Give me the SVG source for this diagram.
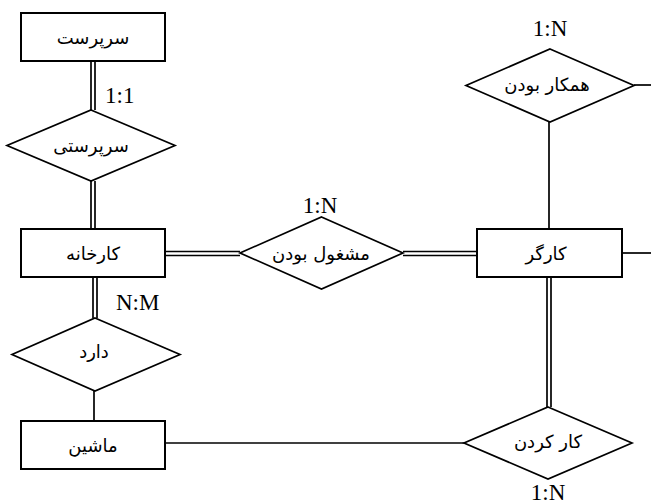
<svg xmlns="http://www.w3.org/2000/svg" width="651" height="504" viewBox="0 0 651 504">
<style>
.ent{fill:#fff;stroke:#000;stroke-width:2}
.rel{fill:#fff;stroke:#000;stroke-width:1.7}
.ln{stroke:#000;stroke-width:1.7;fill:none}
.fa{font-family:"DejaVu Sans",sans-serif;font-size:18px;fill:#000;text-anchor:middle;dominant-baseline:central}
.card{font-family:"Liberation Serif",serif;font-size:23px;fill:#000}
</style>
<rect width="651" height="504" fill="#fff"/>
<g id="connectors">
<line class="ln" x1="91" y1="61" x2="91" y2="110"/><line class="ln" x1="95" y1="61" x2="95" y2="110"/>
<line class="ln" x1="91" y1="181" x2="91" y2="229"/><line class="ln" x1="95" y1="181" x2="95" y2="229"/>
<line class="ln" x1="93" y1="277" x2="93" y2="318"/><line class="ln" x1="97" y1="277" x2="97" y2="318"/>
<line class="ln" x1="94" y1="391" x2="94" y2="421"/>
<line class="ln" x1="165" y1="251.5" x2="240" y2="251.5"/><line class="ln" x1="165" y1="255.5" x2="240" y2="255.5"/>
<line class="ln" x1="403" y1="251.5" x2="477" y2="251.5"/><line class="ln" x1="403" y1="255.5" x2="477" y2="255.5"/>
<line class="ln" x1="622" y1="253" x2="651" y2="253"/>
<line class="ln" x1="549" y1="122" x2="549" y2="229"/>
<line class="ln" x1="634" y1="85" x2="651" y2="85"/>
<line class="ln" x1="547" y1="277" x2="547" y2="407"/><line class="ln" x1="551" y1="277" x2="551" y2="407"/>
<line class="ln" x1="165" y1="443" x2="464" y2="443"/>
</g>
<g id="sarparast"><rect class="ent" x="21" y="13" width="144" height="48"/><text class="fa" x="93" y="37">سرپرست</text></g>
<g id="sarparasti"><polygon class="rel" points="91,110 175,145.5 91,181 7,145.5"/><text class="fa" x="91" y="145">سرپرستی</text></g>
<g id="karkhane"><rect class="ent" x="21" y="229" width="144" height="48"/><text class="fa" x="93" y="253">کارخانه</text></g>
<g id="darad"><polygon class="rel" points="95,318 180,354.5 95,391 12,354.5"/><text class="fa" x="94" y="351">دارد</text></g>
<g id="mashin"><rect class="ent" x="21" y="421" width="144" height="48"/><text class="fa" x="93" y="445">ماشین</text></g>
<g id="mashghul"><polygon class="rel" points="321.5,217 403,253 321.5,289 240,253"/><text class="fa" x="321" y="253">مشغول بودن</text></g>
<g id="hamkar"><polygon class="rel" points="550,49 634,85.5 550,122 466,85.5"/><text class="fa" x="547" y="84">همکار بودن</text></g>
<g id="kargar"><rect class="ent" x="477" y="229" width="145" height="48"/><text class="fa" x="546" y="253">کارگر</text></g>
<g id="karkardan"><polygon class="rel" points="548,407 632,443 548,479 464,443"/><text class="fa" x="548" y="441">کار کردن</text></g>
<g id="labels">
<text class="card" x="105" y="103">1:1</text>
<text class="card" x="116" y="310">N:M</text>
<text class="card" x="320" y="213" text-anchor="middle">1:N</text>
<text class="card" x="550" y="36" text-anchor="middle">1:N</text>
<text class="card" x="548" y="500" text-anchor="middle">1:N</text>
</g>
</svg>
